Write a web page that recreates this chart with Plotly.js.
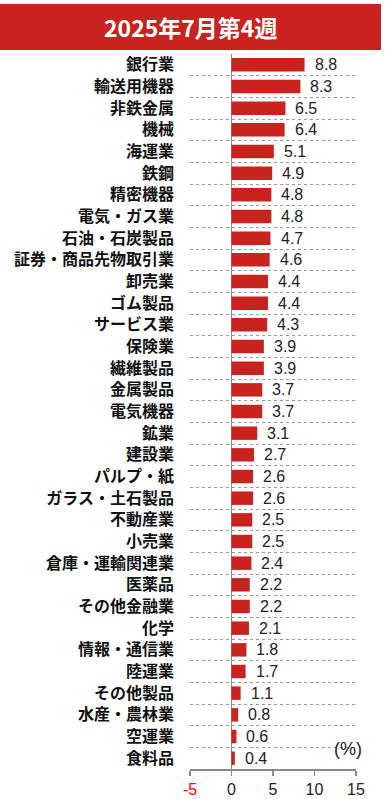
<!DOCTYPE html>
<html><head><meta charset="utf-8">
<script src="https://cdn.plot.ly/plotly-3.0.1.min.js"></script>
<style>html,body{margin:0;padding:0;background:#fff;}#chart{width:386px;height:799px;}</style>
</head><body><div id="chart"></div>
<script>
const titleText = "2025年7月第4週";
const categories = ["銀行業","輸送用機器","非鉄金属","機械","海運業","鉄鋼","精密機器","電気・ガス業","石油・石炭製品","証券・商品先物取引業","卸売業","ゴム製品","サービス業","保険業","繊維製品","金属製品","電気機器","鉱業","建設業","パルプ・紙","ガラス・土石製品","不動産業","小売業","倉庫・運輸関連業","医薬品","その他金融業","化学","情報・通信業","陸運業","その他製品","水産・農林業","空運業","食料品"];
const values = [8.8,8.3,6.5,6.4,5.1,4.9,4.8,4.8,4.7,4.6,4.4,4.4,4.3,3.9,3.9,3.7,3.7,3.1,2.7,2.6,2.6,2.5,2.5,2.4,2.2,2.2,2.1,1.8,1.7,1.1,0.8,0.6,0.4];
const xTickVals = [-5,0,5,10,15];
const xTickText = ['<span style="color:#ff0000">-5</span>','0','5','10','15'];
const unitLabel = "(%)";

const RED = '#c8231f';
const numFont = {family:'"Liberation Sans", Arial, sans-serif', size:16, color:'#222'};

const trace = {
  type:'bar', orientation:'h', x:values, y:categories,
  marker:{color:RED}, width:0.62, hoverinfo:'skip'
};

const annotations = values.map((v,i)=>({
  x:v, y:categories[i], xref:'x', yref:'y', text:v.toFixed(1),
  showarrow:false, xanchor:'left', yanchor:'middle', xshift:8, font:numFont
}));
annotations.push({
  xref:'paper', yref:'paper', x:((0+381)/2-190)/166, y:1+27/715, text:titleText, showarrow:false,
  xanchor:'center', yanchor:'middle',
  font:{family:'"Noto Sans CJK JP", Roboto, sans-serif', size:23, color:'#fff', weight:700}
});
annotations.push({
  xref:'paper', yref:'paper', x:(348-190)/166, y:(769-749)/715, text:unitLabel, showarrow:false,
  xanchor:'center', yanchor:'middle',
  font:{family:'"Liberation Sans", Arial, sans-serif', size:18, color:'#222'}
});

const layout = {
  width:386, height:799,
  margin:{l:190, r:30, t:54, b:30, pad:0},
  paper_bgcolor:'#fff', plot_bgcolor:'#fff',
  showlegend:false,
  bargap:0.38,
  xaxis:{
    range:[-5,15], tickvals:xTickVals, ticktext:xTickText,
    showgrid:false, zeroline:true, zerolinecolor:'#888', zerolinewidth:1.5,
    showline:true, linecolor:'#888', linewidth:1.5,
    ticks:'outside', ticklen:5, tickcolor:'#888', tickwidth:1.5,
    tickfont:numFont, fixedrange:true
  },
  yaxis:{
    type:'category', autorange:'reversed',
    tickson:'boundaries', showgrid:true, gridcolor:'#999', griddash:'dot', gridwidth:1,
    ticks:'', ticklabelstandoff:15, showline:false, zeroline:false,
    tickfont:{family:'"Noto Sans CJK JP", sans-serif', size:16, color:'#111', weight:700},
    fixedrange:true
  },
  shapes:[{
    type:'rect', xref:'paper', yref:'paper',
    x0:-190/166, x1:(381-190)/166, y0:1+4/715, y1:1+50/715,
    fillcolor:RED, line:{width:0}, layer:'above'
  }],
  annotations:annotations
};

Plotly.newPlot('chart',[trace],layout,{displayModeBar:false,staticPlot:true});
</script></body></html>
